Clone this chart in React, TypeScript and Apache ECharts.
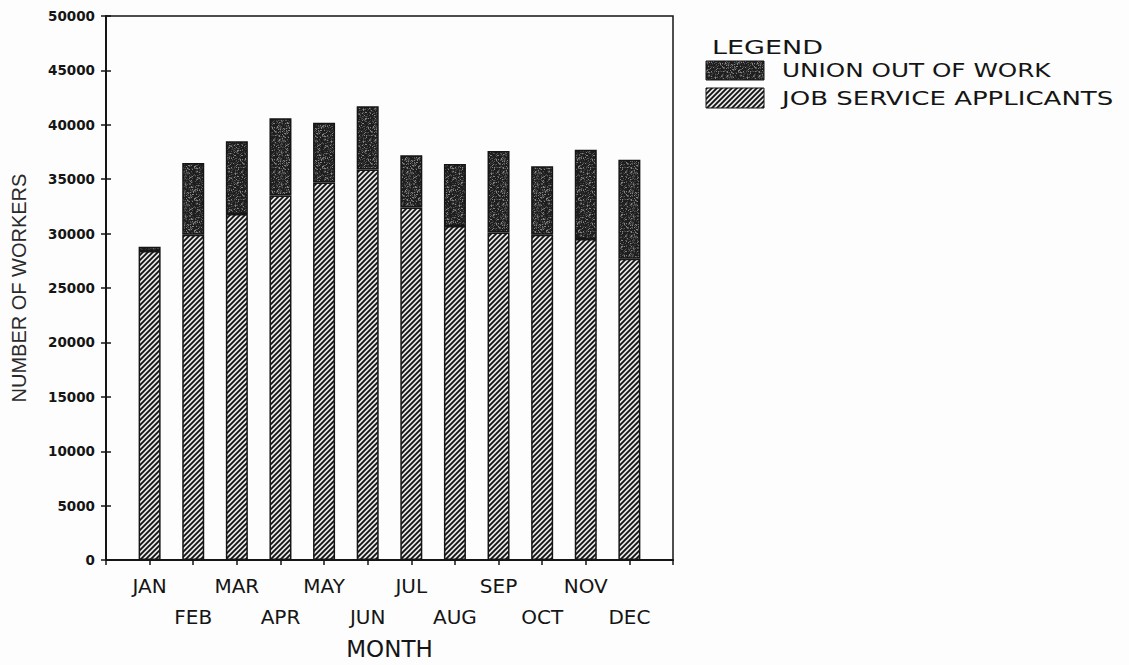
import React, { useEffect, useRef } from 'react';
import * as echarts from 'echarts';

const months = ['JAN', 'FEB', 'MAR', 'APR', 'MAY', 'JUN', 'JUL', 'AUG', 'SEP', 'OCT', 'NOV', 'DEC'];
const jobServiceApplicants = [28400, 29900, 31800, 33500, 34700, 35900, 32400, 30700, 30100, 29900, 29500, 27700];
const unionOutOfWork = [400, 6600, 6700, 7100, 5500, 5800, 4800, 5700, 7500, 6300, 8200, 9100];
const legendTitle = 'LEGEND';
const legendNames = ['UNION OUT OF WORK', 'JOB SERVICE APPLICANTS'];
const yName = 'NUMBER OF WORKERS';
const xName = 'MONTH';

function makeHatch() {
  const s = 5;
  const c = document.createElement('canvas');
  c.width = s;
  c.height = s;
  const g = c.getContext('2d')!;
  g.fillStyle = '#e6e6e6';
  g.fillRect(0, 0, s, s);
  g.strokeStyle = '#111111';
  g.lineWidth = 1.8;
  g.beginPath();
  g.moveTo(-1, s + 1);
  g.lineTo(s + 1, -1);
  g.moveTo(-2, 2);
  g.lineTo(2, -2);
  g.moveTo(s - 2, s + 2);
  g.lineTo(s + 2, s - 2);
  g.stroke();
  return { image: c, repeat: 'repeat', imageWidth: s, imageHeight: s };
}

function makeSpeckle() {
  const s = 32;
  const c = document.createElement('canvas');
  c.width = s;
  c.height = s;
  const g = c.getContext('2d')!;
  const img = g.createImageData(s, s);
  for (let y = 0; y < s; y++) {
    for (let x = 0; x < s; x++) {
      const h = Math.abs(Math.sin(x * 12.9898 + y * 78.233) * 43758.5453) % 1;
      let v = 30;
      if (h > 0.9) v = 130;
      else if (h > 0.75) v = 85;
      else if (h > 0.55) v = 55;
      const i = (y * s + x) * 4;
      img.data[i] = v;
      img.data[i + 1] = v;
      img.data[i + 2] = v;
      img.data[i + 3] = 255;
    }
  }
  g.putImageData(img, 0, 0);
  return { image: c, repeat: 'repeat', imageWidth: s, imageHeight: s };
}

export default function App() {
  const ref = useRef<HTMLDivElement>(null);

  useEffect(() => {
    if (!ref.current) return;
    const chart = echarts.init(ref.current, null, { renderer: 'svg' });
    const hatch = makeHatch();
    const speckle = makeSpeckle();
    const cats = ['', ...months, ''];
    const pad = (arr: number[]) => [null, ...arr, null];
    const ink = '#151515';
    const legendFont = '19px "DejaVu Sans"';

    chart.setOption({
      animation: false,
      backgroundColor: '#fdfdfd',
      grid: {
        left: 106,
        right: 456,
        top: 16,
        bottom: 99,
        show: true,
        borderColor: ink,
        borderWidth: 1.5,
        backgroundColor: 'transparent',
      },
      xAxis: {
        type: 'category',
        data: cats,
        boundaryGap: false,
        name: xName,
        nameLocation: 'middle',
        nameGap: 71,
        nameTextStyle: { fontFamily: 'DejaVu Sans', fontSize: 23, color: ink },
        axisLine: { show: true, lineStyle: { color: ink, width: 2 } },
        axisTick: { show: true, interval: 0, length: 5, lineStyle: { color: ink, width: 1.5 } },
        axisLabel: {
          interval: 0,
          margin: 10,
          fontFamily: 'DejaVu Sans',
          fontSize: 20,
          lineHeight: 31,
          color: ink,
          formatter: (v: string, i: number) => (i % 2 === 1 ? v : '\n' + v),
        },
        splitLine: { show: false },
      },
      yAxis: [
        {
          type: 'value',
          min: 0,
          max: 50000,
          interval: 5000,
          name: yName,
          nameLocation: 'middle',
          nameGap: 77,
          nameTextStyle: { fontFamily: 'Liberation Sans', fontSize: 20, color: '#2a2a2a' },
          axisLine: { show: true, lineStyle: { color: ink, width: 2 } },
          axisTick: { show: true, length: 5, lineStyle: { color: ink, width: 1.5 } },
          axisLabel: {
            margin: 11,
            fontFamily: 'DejaVu Sans',
            fontWeight: 'bold',
            fontSize: 13.5,
            color: ink,
            formatter: (v: number) => String(v),
          },
          splitLine: { show: false },
        },
        {
          type: 'value',
          position: 'left',
          min: 0,
          max: 50000,
          interval: 5000,
          axisLine: { show: false },
          axisTick: { show: true, inside: true, length: 5, lineStyle: { color: ink, width: 1.5 } },
          axisLabel: { show: false },
          splitLine: { show: false },
        },
      ],
      series: [
        {
          name: legendNames[1],
          type: 'bar',
          stack: 'total',
          barWidth: 22,
          data: pad(jobServiceApplicants),
          itemStyle: { color: hatch, borderColor: ink, borderWidth: 1.5 },
        },
        {
          name: legendNames[0],
          type: 'bar',
          stack: 'total',
          barWidth: 22,
          data: pad(unionOutOfWork),
          itemStyle: { color: speckle, borderColor: ink, borderWidth: 1.5 },
        },
      ],
      graphic: [
        {
          type: 'text',
          x: 712,
          y: 47,
          scaleX: 1.42,
          style: { text: legendTitle, font: legendFont, fill: ink, verticalAlign: 'middle' },
        },
        {
          type: 'rect',
          shape: { x: 706, y: 61, width: 58, height: 19 },
          style: { fill: speckle, stroke: ink, lineWidth: 1 },
        },
        {
          type: 'text',
          x: 782,
          y: 71,
          scaleX: 1.3,
          style: { text: legendNames[0], font: legendFont, fill: ink, verticalAlign: 'middle' },
        },
        {
          type: 'rect',
          shape: { x: 706, y: 88, width: 58, height: 20 },
          style: { fill: hatch, stroke: ink, lineWidth: 1 },
        },
        {
          type: 'text',
          x: 782,
          y: 98,
          scaleX: 1.37,
          style: { text: legendNames[1], font: legendFont, fill: ink, verticalAlign: 'middle' },
        },
      ],
    });

    return () => chart.dispose();
  }, []);

  return (
    <div
      ref={ref}
      style={{ position: 'absolute', left: 0, top: 0, width: 1129, height: 665 }}
    />
  );
}
